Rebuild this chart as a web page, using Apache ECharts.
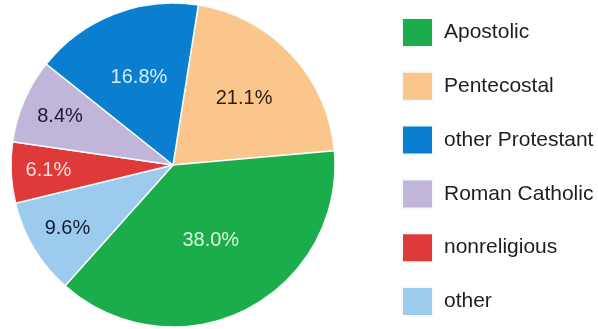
<!DOCTYPE html>
<html>
<head>
<meta charset="utf-8">
<script src="https://cdn.jsdelivr.net/npm/echarts@6/dist/echarts.min.js"></script>
<style>html,body{margin:0;padding:0;background:#fff}#c{width:598px;height:329px}</style>
</head>
<body>
<div id="c"></div>
<script>
// Data (pie drawn clockwise in this order)
var categories = ['Pentecostal', 'Apostolic', 'other', 'nonreligious', 'Roman Catholic', 'other Protestant'];
var values = [21.1, 38.0, 9.6, 6.1, 8.4, 16.8];
var legendOrder = ['Apostolic', 'Pentecostal', 'other Protestant', 'Roman Catholic', 'nonreligious', 'other'];

// Styles
var colors = ['#fbc68c', '#1bad4b', '#9ccbee', '#df3a3a', '#c1b5da', '#0a7fcf'];
var labelColors = ['#2b1d10', '#d9f7dd', '#141b30', '#fde0dc', '#1e1a2c', '#d7ecfb'];
var labelRadiusFrac = [0.6, 0.52, 0.76, 0.77, 0.76, 0.58];

var CX = 173, CY = 165, R = 162, START = 81;
var total = values.reduce(function (a, b) { return a + b; }, 0);
var cum = [];
(function () { var s = 0; for (var i = 0; i < values.length; i++) { cum.push(s); s += values[i]; } })();

var chart = echarts.init(document.getElementById('c'), null, {renderer: 'canvas'});
chart.setOption({
  animation: false,
  backgroundColor: '#fff',
  legend: {
    data: legendOrder,
    orient: 'vertical',
    left: 401,
    top: 17,
    height: 320,
    padding: 0,
    itemWidth: 31,
    itemHeight: 29,
    itemGap: 22.8,
    icon: 'rect',
    textStyle: {fontFamily: 'Liberation Sans, Arial, sans-serif', fontSize: 21, lineHeight: 24, color: '#1e1e1e', padding: [0, 0, 0, 6]},
    selectedMode: false
  },
  series: [{
    type: 'pie',
    center: [CX, CY],
    radius: [0, R],
    startAngle: START,
    clockwise: true,
    avoidLabelOverlap: false,
    itemStyle: {borderColor: '#f4fbf8', borderWidth: 1.5},
    label: {
      show: true,
      position: 'inside',
      fontFamily: 'Liberation Sans, Arial, sans-serif',
      fontSize: 20,
      formatter: function (p) { return p.value.toFixed(1) + '%'; }
    },
    labelLayout: function (p) {
      var i = p.dataIndex;
      var mid = (cum[i] + values[i] / 2) / total * 360;
      var a = (START - mid) * Math.PI / 180;
      var f = labelRadiusFrac[i] * R;
      return {x: CX + f * Math.cos(a), y: CY - f * Math.sin(a), align: 'center', verticalAlign: 'middle'};
    },
    data: categories.map(function (c, i) {
      return {name: c, value: values[i], itemStyle: {color: colors[i]}, label: {color: labelColors[i]}};
    })
  }]
});
</script>
</body>
</html>
